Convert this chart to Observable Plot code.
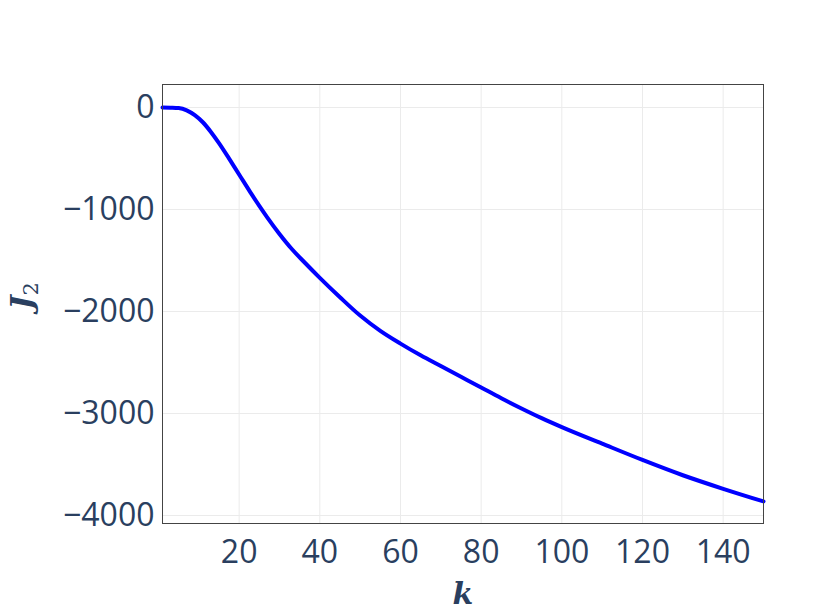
<!DOCTYPE html>
<html>
<head>
<meta charset="utf-8">
<script src="https://cdn.jsdelivr.net/npm/d3@7"></script>
<script src="https://cdn.jsdelivr.net/npm/@observablehq/plot@0.6"></script>
<style>
  html, body { margin: 0; padding: 0; background: #fff; }
  #chart { width: 831px; height: 610px; }
</style>
</head>
<body>
<div id="chart"></div>
<script>
// Data
const kValues = [1, 3, 5, 7, 9, 11, 13, 15, 17, 19, 21, 23, 25, 27, 30, 33, 36, 40, 45, 50, 55, 60, 65, 70, 75, 80, 85, 90, 95, 100, 110, 120, 130, 140, 150];
const j2Values = [0, -2, -6, -28, -75, -145, -240, -350, -470, -595, -720, -845, -965, -1080, -1240, -1385, -1510, -1670, -1860, -2040, -2190, -2315, -2430, -2535, -2640, -2745, -2850, -2950, -3045, -3133, -3295, -3455, -3605, -3738, -3862];
const xTicks = [20, 40, 60, 80, 100, 120, 140];
const yTicks = [0, -1000, -2000, -3000, -4000];
const xLabel = "k";
const yLabel = "J";
const yLabelSub = "2";

const data = kValues.map((k, i) => ({k, v: j2Values[i]}));

const W = 831, H = 610;
const M = {left: 162, right: 68, top: 84, bottom: 87};
const textColor = "#2a3f5f";
const fmt = d3.format("d");

const plot = Plot.plot({
  width: W,
  height: H,
  marginLeft: M.left,
  marginRight: M.right,
  marginTop: M.top,
  marginBottom: M.bottom,
  style: {fontFamily: "'Open Sans', sans-serif", fontSize: "32px", color: textColor, background: "#fff"},
  x: {domain: [1, 150]},
  y: {domain: [-4078, 225]},
  marks: [
    Plot.gridX(xTicks, {stroke: "#ebebeb", strokeOpacity: 1, strokeWidth: 1}),
    Plot.gridY(yTicks, {stroke: "#ebebeb", strokeOpacity: 1, strokeWidth: 1}),
    Plot.line(data, {x: "k", y: "v", stroke: "#0000ff", strokeWidth: 4, curve: "monotone-x"}),
    Plot.frame({stroke: "#444", strokeWidth: 1}),
    Plot.axisX(xTicks, {tickSize: 0, tickPadding: 17, fontSize: 32, label: null, tickFormat: fmt}),
    Plot.axisY(yTicks, {tickSize: 0, tickPadding: 8, fontSize: 32, label: null, tickFormat: fmt})
  ]
});

const svg = d3.select(plot);
// x axis title
svg.append("text")
  .attr("x", 463)
  .attr("y", 604)
  .attr("text-anchor", "middle")
  .attr("fill", textColor)
  .style("font-family", "'DejaVu Serif', serif")
  .style("font-style", "italic")
  .style("font-weight", "bold")
  .style("font-size", "30px")
  .text(xLabel);
// y axis title
const yt = svg.append("text")
  .attr("transform", "translate(32,296) rotate(-90)")
  .attr("text-anchor", "middle")
  .attr("fill", textColor)
  .style("font-family", "'DejaVu Serif', serif")
  .style("font-style", "italic")
  .style("font-weight", "bold")
  .style("font-size", "30px");
yt.append("tspan").text(yLabel);
yt.append("tspan").attr("dy", "0.3em").style("font-size", "21px").style("font-style", "normal").style("font-weight", "normal").text(yLabelSub);

document.getElementById("chart").appendChild(plot);
</script>
</body>
</html>
